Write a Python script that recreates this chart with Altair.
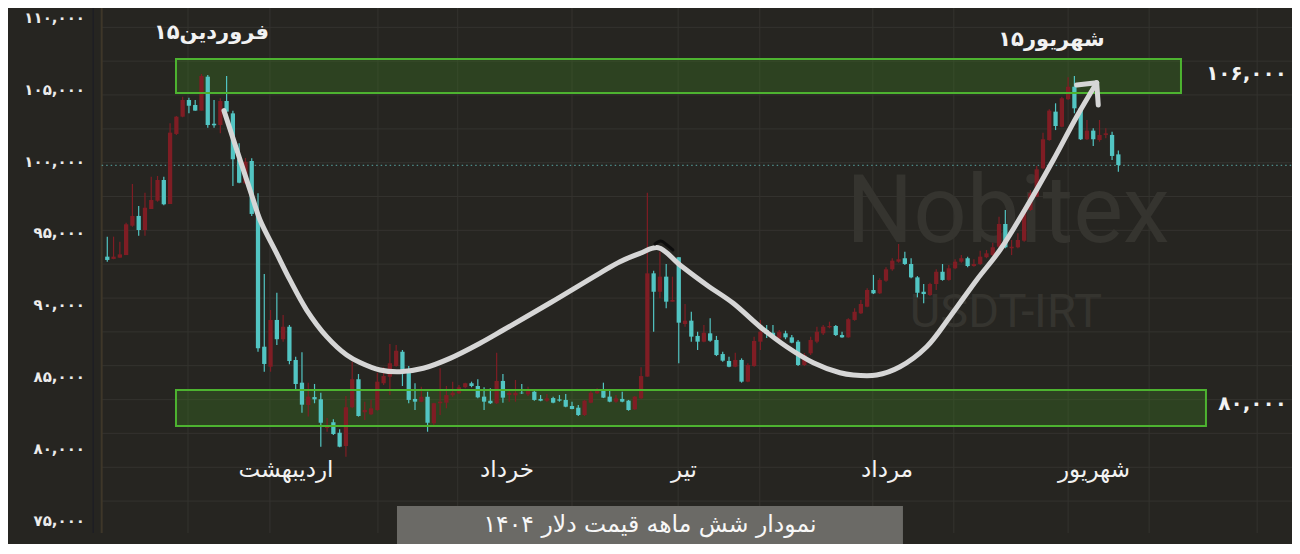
import altair as alt
import pandas as pd

# ---------------- data (USDT-IRT daily candles) ----------------
opens = [93390, 93230, 93320, 93500, 95540, 96220, 95240, 96700, 97280, 98720,
         97050, 101920, 103120, 104280, 103930, 103540, 105900, 102630, 102540, 104210,
         103350, 100160, 98490, 100040, 96360, 87130, 85740, 88990, 87650, 88520,
         86210, 84630, 83080, 83630, 83470, 81480, 81880, 81150, 80230, 82920,
         84870, 82570, 82430, 82730, 84590, 85050, 85790, 86780, 85390, 83500,
         83310, 83660, 81810, 83200, 83240, 83750, 83890, 84310, 84590, 84400,
         83660, 83380, 83200, 84750, 83770, 83750, 83930, 83820, 84000, 83500,
         83380, 83560, 83470, 83430, 83010, 82890, 82380, 83240, 83890, 84120,
         83660, 83310, 83500, 83380, 82780, 83540, 85050, 92230, 90950, 92000,
         90260, 93350, 88710, 88940, 87880, 87480, 88060, 87600, 86620, 86140,
         85740, 86210, 84700, 85790, 87480, 88290, 88100, 87710, 88060, 87780,
         87480, 85860, 86670, 87480, 88060, 88480, 88570, 87940, 87780, 88990,
         89450, 89910, 91070, 90840, 91720, 92510, 93040, 93280, 92880, 91950,
         90950, 90720, 91490, 92340, 91770, 92580, 93040, 93280, 92740, 92880,
         93350, 93500, 94080, 95660, 93970, 94040, 94500, 96630, 97560, 99530,
         101500, 103470, 102420, 104330, 105200, 103700, 101550, 102150, 101500, 101850,
         101850, 100500]
highs = [94780, 94780, 94430, 95750, 98440, 96910, 97840, 98950, 99000, 98950,
         102660, 103170, 104510, 104440, 104280, 106090, 106020, 104280, 104400, 105950,
         103540, 101270, 100250, 100230, 97790, 92180, 89680, 90880, 89330, 88640,
         86440, 86740, 84630, 84540, 83930, 82180, 82080, 81390, 83700, 86090,
         85230, 83310, 83430, 85320, 85700, 87320, 87250, 86900, 85790, 84590,
         84350, 84000, 83240, 85630, 84400, 84700, 84470, 84630, 84700, 84870,
         84310, 84240, 86710, 85230, 84170, 84820, 84540, 84350, 84120, 83770,
         83840, 83660, 83770, 83840, 83310, 83080, 83430, 84070, 84240, 84630,
         84070, 83770, 84000, 83430, 83700, 85700, 97840, 92410, 93730, 92880,
         92000, 93350, 90100, 89560, 88170, 88640, 89100, 87880, 86780, 86440,
         86710, 86320, 85980, 87830, 88990, 88640, 88640, 88290, 88240, 87940,
         87600, 86690, 87830, 88520, 88640, 88870, 88640, 88170, 89100, 89800,
         90380, 91190, 92120, 91890, 92650, 93280, 94270, 93730, 93280, 92040,
         91490, 91580, 92510, 92880, 92810, 93210, 93500, 93390, 93210, 93800,
         93850, 94360, 96170, 96630, 94550, 95010, 96860, 98020, 99690, 102010,
         103630, 104050, 104510, 105860, 105950, 103810, 102890, 102310, 102890, 102310,
         102080, 100760]
lows = [93040, 93210, 93320, 93500, 95470, 94850, 94850, 96700, 97210, 96960,
        97050, 101850, 103080, 103350, 103540, 103540, 102350, 102350, 101960, 103470,
        98300, 98490, 98440, 96220, 86780, 85390, 85390, 87250, 87480, 85910,
        84120, 82540, 82270, 83200, 80180, 81220, 80990, 80140, 79480, 82850,
        82270, 82040, 82380, 82680, 84470, 83770, 85740, 84400, 83200, 82730,
        83270, 81220, 81690, 82380, 82850, 83660, 83840, 84240, 84310, 83540,
        82730, 83150, 83150, 83240, 83310, 83310, 83840, 83700, 83380, 83340,
        83310, 83200, 83310, 82920, 82780, 82310, 82310, 83200, 83840, 83560,
        83270, 83240, 83270, 82680, 82730, 83500, 85050, 88170, 90500, 89800,
        90260, 85980, 88520, 87480, 86900, 87440, 87480, 86480, 86090, 85700,
        85700, 84630, 84660, 85740, 86900, 87740, 87780, 87650, 87650, 87370,
        85790, 85790, 86550, 87370, 87940, 88410, 87880, 87760, 87760, 88940,
        89400, 89870, 90790, 90790, 91650, 92410, 92970, 92810, 91890, 90560,
        90150, 90650, 91070, 91720, 91720, 92510, 92970, 92650, 92690, 92810,
        93280, 93440, 93970, 93970, 93500, 93970, 94430, 96580, 97520, 99460,
        101450, 102190, 102380, 104280, 103350, 101500, 101500, 101080, 101380, 101620,
        100110, 99300]
closes = [93160, 93390, 93550, 95640, 96220, 95240, 96790, 97330, 98720, 97030,
          102010, 103120, 104280, 103880, 103540, 105950, 102540, 102520, 104210, 103470,
          100160, 98530, 99990, 96360, 87020, 85930, 88990, 87650, 88520, 86140,
          84540, 83100, 83660, 83470, 81850, 81620, 81060, 80180, 82920, 84870,
          82310, 82730, 82850, 84700, 85090, 85980, 86850, 85390, 83430, 83310,
          83660, 81850, 83200, 83310, 83770, 83930, 84310, 84590, 84400, 83610,
          83310, 83200, 84750, 83590, 83930, 83930, 83890, 84070, 83430, 83380,
          83540, 83240, 83380, 82960, 82800, 82380, 83380, 83930, 84170, 83590,
          83310, 83540, 83310, 82730, 83660, 85090, 92230, 90950, 92000, 90260,
          90380, 88800, 88940, 87830, 87480, 88100, 87550, 86550, 86160, 85740,
          86210, 84700, 85860, 87530, 88170, 88010, 87830, 88170, 87780, 87410,
          85860, 86550, 87600, 88170, 88520, 88570, 87940, 87780, 89040, 89560,
          90100, 91070, 90840, 91770, 92510, 93110, 93210, 92880, 91950, 90880,
          90790, 91490, 92340, 91770, 92580, 93040, 93280, 92740, 92880, 93390,
          93620, 94040, 95660, 94040, 94080, 94550, 96630, 97790, 99460, 101550,
          103540, 102470, 104400, 105200, 103700, 101550, 102150, 101550, 101850, 101960,
          100390, 99760]

ytick_values = [75000, 80000, 85000, 90000, 95000, 100000, 105000, 110000]
ytick_labels = ["۷۵,۰۰۰", "۸۰,۰۰۰", "۸۵,۰۰۰", "۹۰,۰۰۰", "۹۵,۰۰۰", "۱۰۰,۰۰۰", "۱۰۵,۰۰۰", "۱۱۰,۰۰۰"]
month_names = ["اردیبهشت", "خرداد", "تیر", "مرداد", "شهریور"]
month_days = [29.46, 64.65, 92.83, 125.16, 158.12]
grid_prices = [109330, 106980, 104630, 102270, 99920, 97570, 95220, 92870, 90510,
               88160, 85810, 83450, 81110, 78750, 76400]
grid_days = [13.85, 26.9, 44.1, 56.8, 75.0, 91.9, 104.9, 122.9, 135.8, 154.0, 166.9, 184.1]
last_price = 99740
zone_names = ["resistance", "support"]
zone_low = [104770, 81620]
zone_high = [107130, 84120]
zone_start = [11.94, 11.94]
zone_end = [171.97, 175.95]
zone_labels = ["۱۰۶,۰۰۰", "۸۰,۰۰۰"]
zone_label_prices = [106110, 83150]
peak_labels = ["۱۵فروردین", "۱۵شهریور"]
peak_label_days = [17.59, 151.35]
peak_label_prices = [108940, 108450]
curve_days = [19.58, 24.25, 25.32, 27.97, 30.09, 32.75, 35.94, 39.12, 41.24, 44.42,
              47.61, 51.32, 55.57, 60.35, 64.06, 71.49, 79.46, 82.64, 85.82, 88.74,
              92.19, 96.45, 100.68, 104.93, 109.18, 113.42, 117.67, 119.79, 123.52, 127.23,
              131.48, 135.19, 139.44, 143.15, 147.4, 151.64, 155.36, 158.55]
curve_prices = [103540, 97330, 95940, 93620, 91770, 89680, 87830, 86550, 86030, 85510,
                85390, 85630, 86320, 87370, 88290, 90170, 92250, 93040, 93620, 94010,
                92810, 91420, 90150, 88520, 87130, 86020, 85320, 85160, 85160, 85740,
                87130, 89220, 91770, 93850, 96860, 100110, 103120, 105480]
arrow_days = [155.36, 158.55, 158.8]
arrow_prices = [105320, 105480, 103930]
mark_days = [88.21, 89.16, 90.12, 91.07]
mark_prices = [94270, 94480, 94200, 93850]
title_text = "نمودار شش ماهه قیمت دلار ۱۴۰۴"
watermark = ["Nobitex", "USDT-IRT"]

# ---------------- styling ----------------
BG = "#262521"
GRID = "#34332f"
RED = "#7f1d24"
CYAN = "#52c5c3"
W, H = 1284, 536
X_DOMAIN = [-14.81, 189.65]
Y_DOMAIN = [73416, 110674]
PLOT_LEFT = 0.108
PLOT_BOTTOM = 74180
PERSIAN_FONT = "DejaVu Sans"

xs = alt.Scale(domain=X_DOMAIN, nice=False, zero=False)
ys = alt.Scale(domain=Y_DOMAIN, nice=False, zero=False)


def xq(f):
    return alt.X(f, type="quantitative", scale=xs, axis=None)


def yq(f):
    return alt.Y(f, type="quantitative", scale=ys, axis=None)


# candles
n = list(range(1, len(opens) + 1))
cdf = pd.DataFrame({"n": n, "open": opens, "high": highs, "low": lows, "close": closes})
cdf["dir"] = ["up" if c > o else "down" for o, c in zip(opens, closes)]
cdf["top"] = cdf[["open", "close"]].max(axis=1)
cdf["bot"] = cdf[["open", "close"]].min(axis=1)
cdf["xa"] = cdf["n"] - 0.34
cdf["xb"] = cdf["n"] + 0.34
color_enc = alt.Color("dir:N", scale=alt.Scale(domain=["up", "down"], range=[RED, CYAN]), legend=None)

wicks = alt.Chart(cdf).mark_rule(strokeWidth=1.2).encode(
    x=xq("n"), y=yq("low"), y2=alt.Y2("high"), color=color_enc)
bodies = alt.Chart(cdf).mark_rect().encode(
    x=xq("xa"), x2=alt.X2("xb"), y=yq("bot"), y2=alt.Y2("top"), color=color_enc)

# grid
hdf = pd.DataFrame({"v": grid_prices, "x0": PLOT_LEFT, "x1": X_DOMAIN[1]})
hgrid = alt.Chart(hdf).mark_rule(color=GRID, strokeWidth=1).encode(
    x=xq("x0"), x2=alt.X2("x1"), y=yq("v"))
vdf = pd.DataFrame({"n": grid_days, "v0": PLOT_BOTTOM, "v1": Y_DOMAIN[1]})
vgrid = alt.Chart(vdf).mark_rule(color=GRID, strokeWidth=1).encode(
    x=xq("n"), y=yq("v0"), y2=alt.Y2("v1"))
bdf = pd.DataFrame({"n": [PLOT_LEFT], "v0": [PLOT_BOTTOM], "v1": [Y_DOMAIN[1]]})
border = alt.Chart(bdf).mark_rule(color="#3e3729", strokeWidth=2).encode(
    x=xq("n"), y=yq("v0"), y2=alt.Y2("v1"))
bdf2 = pd.DataFrame({"n": [-1.25], "v0": [PLOT_BOTTOM], "v1": [Y_DOMAIN[1]]})
border2 = alt.Chart(bdf2).mark_rule(color="#1f1f24", strokeWidth=1.5).encode(
    x=xq("n"), y=yq("v0"), y2=alt.Y2("v1"))
pdf = pd.DataFrame({"v": [last_price], "x0": [PLOT_LEFT], "x1": [X_DOMAIN[1]]})
price_line = alt.Chart(pdf).mark_rule(color="#58a7a5", strokeWidth=1, strokeDash=[1.5, 3]).encode(
    x=xq("x0"), x2=alt.X2("x1"), y=yq("v"))

# watermark
wdf = pd.DataFrame({"t": watermark, "n": [144.42, 144.1], "v": [94430, 88520]})
wm1 = alt.Chart(wdf.iloc[[0]]).mark_text(font="Roboto", fontSize=94, color="#35342f",
                                          align="center", baseline="alphabetic").encode(
    x=xq("n"), y=yq("v"), text="t:N")
wm2 = alt.Chart(wdf.iloc[[1]]).mark_text(font="Roboto", fontSize=47, color="#35342f",
                                          align="center", baseline="alphabetic").encode(
    x=xq("n"), y=yq("v"), text="t:N")

# zones
zdf = pd.DataFrame({"name": zone_names, "x0": zone_start, "x1": zone_end,
                    "v0": zone_low, "v1": zone_high})
zone_fill = alt.Chart(zdf).mark_rect(color="#3f7f22", opacity=0.32).encode(
    x=xq("x0"), x2=alt.X2("x1"), y=yq("v0"), y2=alt.Y2("v1"))
zone_edge = alt.Chart(zdf).mark_rect(filled=False, stroke="#4db330", strokeWidth=2).encode(
    x=xq("x0"), x2=alt.X2("x1"), y=yq("v0"), y2=alt.Y2("v1"))

# curve & arrow
cv = pd.DataFrame({"i": range(len(curve_days)), "n": curve_days, "v": curve_prices})
curve = alt.Chart(cv).mark_line(interpolate="catmull-rom", strokeWidth=5, color="#d6d6d6",
                                strokeCap="round", strokeJoin="round").encode(
    x=xq("n"), y=yq("v"), order="i:Q")
av = pd.DataFrame({"i": range(len(arrow_days)), "n": arrow_days, "v": arrow_prices})
arrow = alt.Chart(av).mark_line(strokeWidth=5, color="#d6d6d6",
                                strokeCap="round", strokeJoin="round").encode(
    x=xq("n"), y=yq("v"), order="i:Q")
mv = pd.DataFrame({"i": range(len(mark_days)), "n": mark_days, "v": mark_prices})
squiggle = alt.Chart(mv).mark_line(strokeWidth=3, color="#0d0d0d", strokeCap="round",
                                   interpolate="monotone").encode(
    x=xq("n"), y=yq("v"), order="i:Q")

# texts
ydf = pd.DataFrame({"v": ytick_values, "t": ytick_labels, "n": -2.55})
ylabels = alt.Chart(ydf).mark_text(font=PERSIAN_FONT, fontSize=15, fontWeight="bold",
                                   color="#ececec", align="right", baseline="middle").encode(
    x=xq("n"), y=yq("v"), text="t:N")
mdf = pd.DataFrame({"t": month_names, "n": month_days, "v": 78560})
months = alt.Chart(mdf).mark_text(font=PERSIAN_FONT, fontSize=23, color="#f2f2f2",
                                  align="center", baseline="middle", dir="rtl").encode(
    x=xq("n"), y=yq("v"), text="t:N")
tdf = pd.DataFrame({"t": peak_labels, "n": peak_label_days, "v": peak_label_prices})
peaks = alt.Chart(tdf).mark_text(font=PERSIAN_FONT, fontSize=21, fontWeight="bold",
                                 color="#f2f2f2", align="center", baseline="middle",
                                 dir="rtl").encode(
    x=xq("n"), y=yq("v"), text="t:N")
rdf = pd.DataFrame({"t": zone_labels, "v": zone_label_prices, "n": 188.85})
rlabels = alt.Chart(rdf).mark_text(font=PERSIAN_FONT, fontSize=20, fontWeight="bold",
                                   color="#f2f2f2", align="right", baseline="middle").encode(
    x=xq("n"), y=yq("v"), text="t:N")

# title box
tb = pd.DataFrame({"x0": [47.13], "x1": [127.7], "v0": [73420], "v1": [76060]})
title_box = alt.Chart(tb).mark_rect(color="#6b6a66").encode(
    x=xq("x0"), x2=alt.X2("x1"), y=yq("v0"), y2=alt.Y2("v1"))
tt = pd.DataFrame({"t": [title_text], "n": [87.42], "v": [74740]})
title = alt.Chart(tt).mark_text(font=PERSIAN_FONT, fontSize=23.5, color="#f7f7f7",
                                align="center", baseline="middle", dir="rtl").encode(
    x=xq("n"), y=yq("v"), text="t:N")

chart = alt.layer(
    hgrid, vgrid, wm1, wm2, border2, border, price_line, zone_fill,
    wicks, bodies, zone_edge, curve, arrow, squiggle,
    ylabels, months, peaks, rlabels, title_box, title
).properties(
    width=W, height=H, background=BG, padding=0,
    autosize=alt.AutoSizeParams(type="none")
).configure_view(strokeWidth=0, fill=BG)

chart.save("out.html", embed_options={"renderer": "svg", "actions": False})
